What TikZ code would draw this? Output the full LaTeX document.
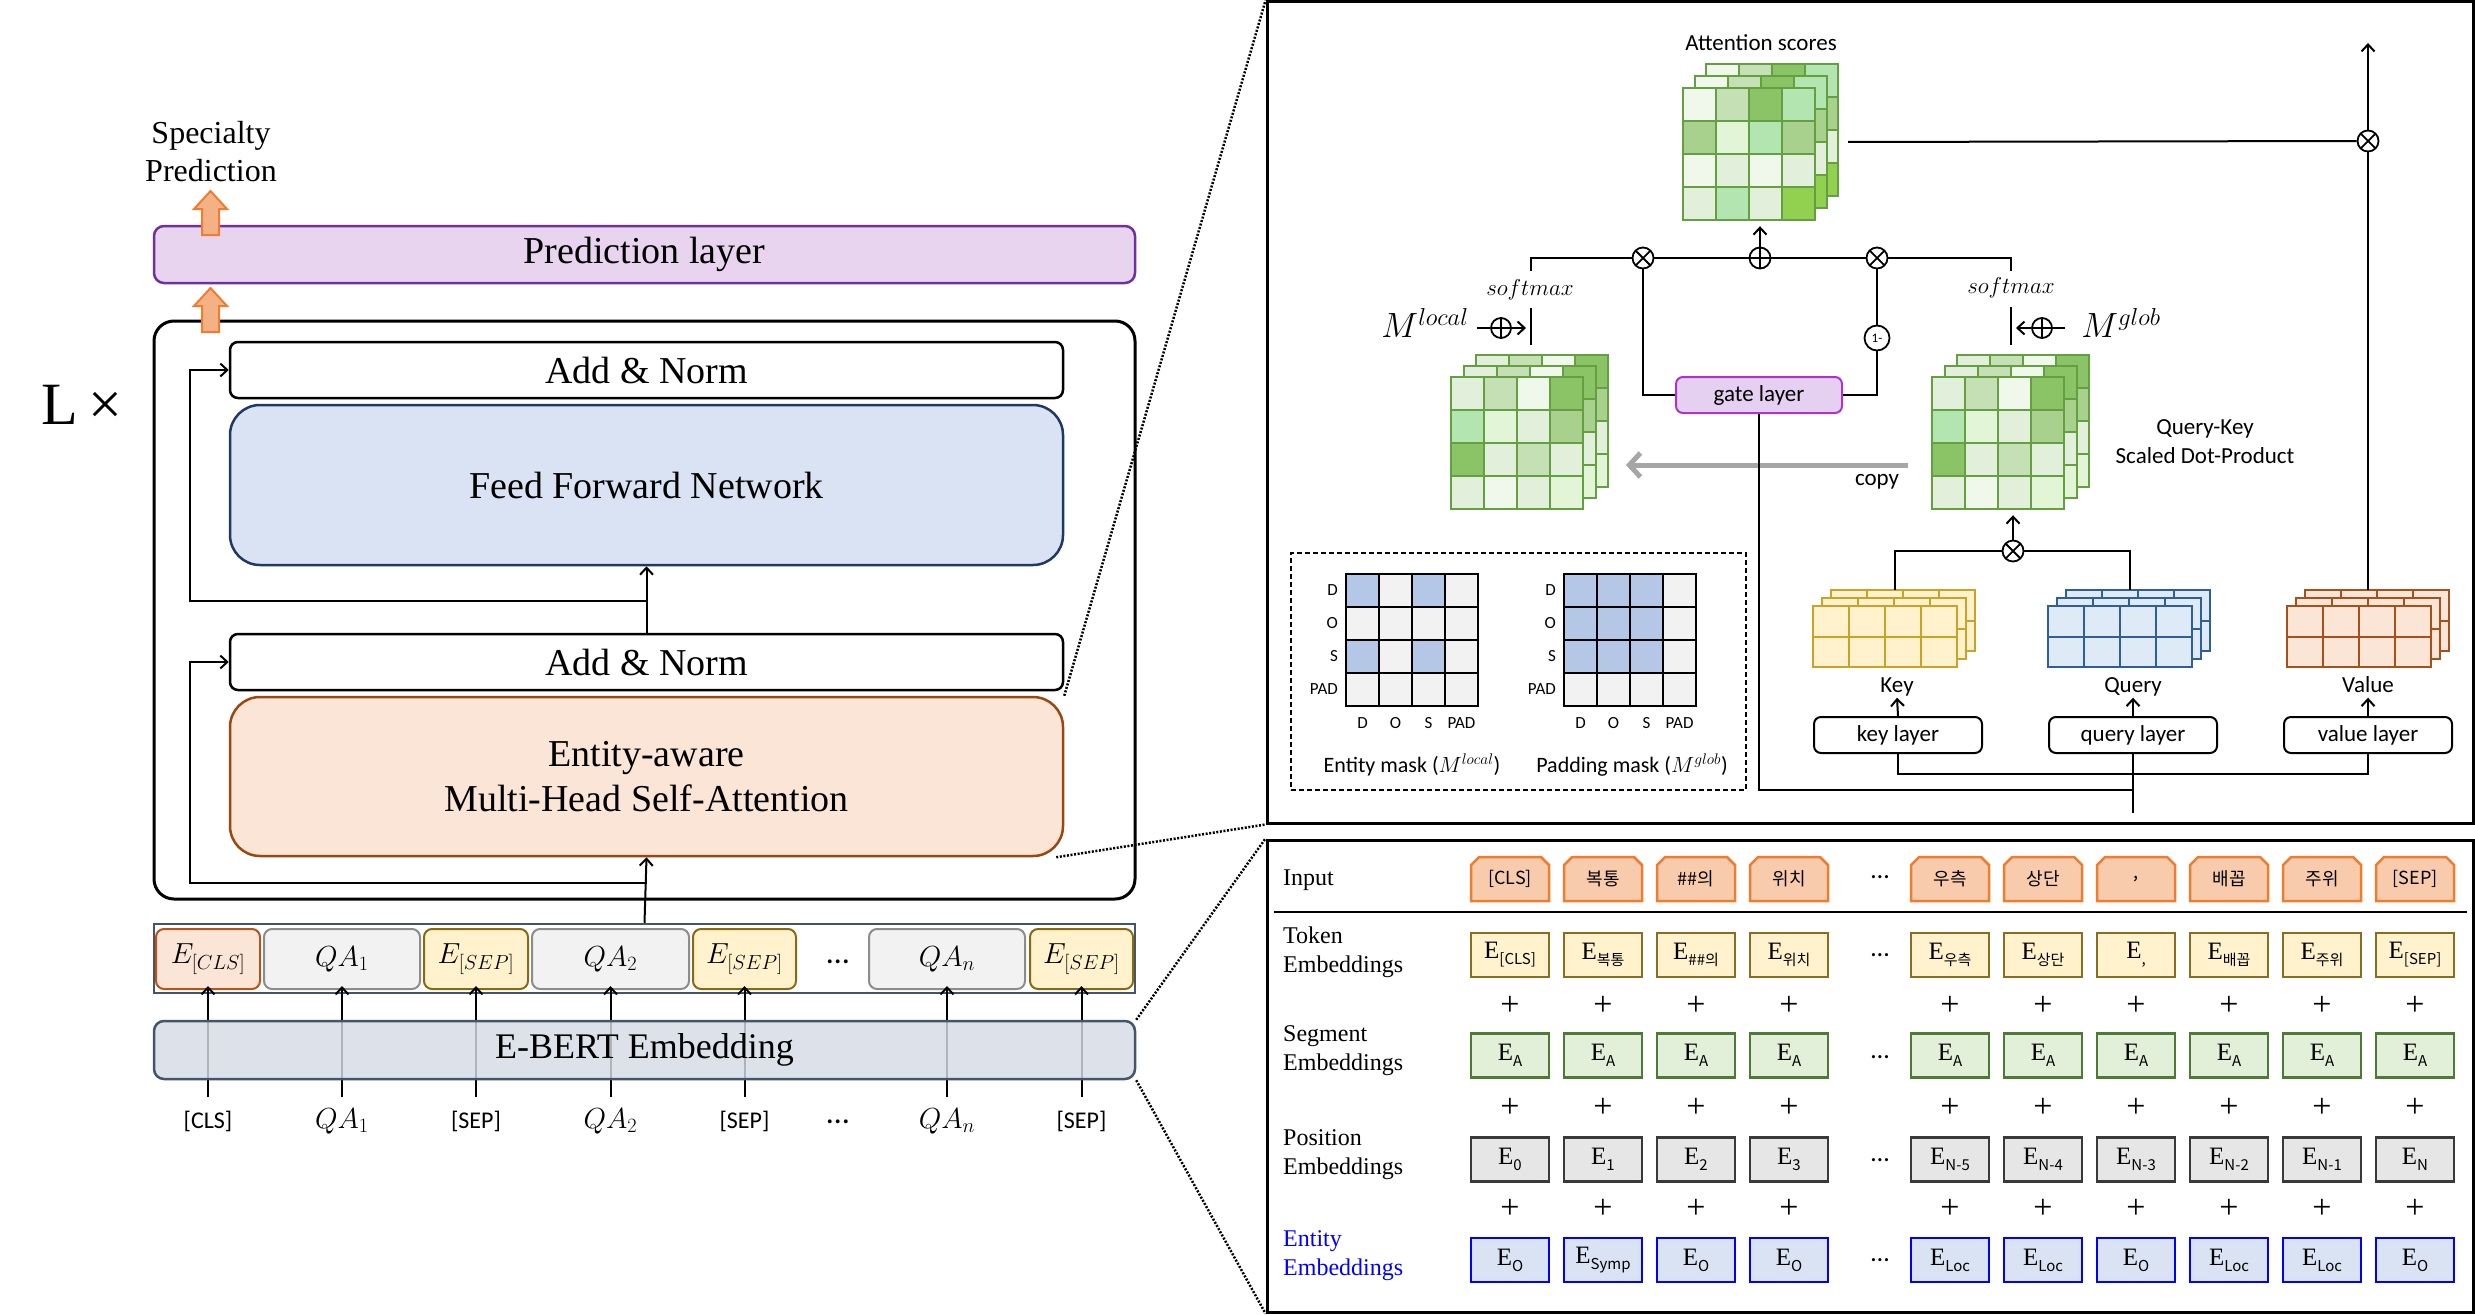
\RequirePackage{fix-cm}
\documentclass[tikz,border=0pt]{standalone}
\usepackage{fontspec}
\setmainfont{Liberation Serif}
\newfontfamily\calib{Carlito}
\newfontfamily\krf{Noto Sans CJK KR}
\usetikzlibrary{arrows.meta,calc}

\definecolor{predF}{HTML}{E8D4EF}
\definecolor{predB}{HTML}{7030A0}
\definecolor{ffnF}{HTML}{DAE3F3}
\definecolor{ffnB}{HTML}{1F3864}
\definecolor{mhsaF}{HTML}{FBE5D6}
\definecolor{mhsaB}{HTML}{984811}
\definecolor{ebF}{HTML}{D6DCE5}
\definecolor{ebB}{HTML}{44546A}
\definecolor{clsB}{HTML}{B5541B}
\definecolor{qaF}{HTML}{F2F2F2}
\definecolor{qaB}{HTML}{8C8C8C}
\definecolor{sepF}{HTML}{FFF2CC}
\definecolor{sepB}{HTML}{8A6A10}
\definecolor{orA}{HTML}{F4B183}
\definecolor{orB}{HTML}{ED7D31}
\definecolor{gateF}{HTML}{E6D0F2}
\definecolor{gateB}{HTML}{B030D0}
\definecolor{keyF}{HTML}{FFF2CC}
\definecolor{keyB}{HTML}{C9A227}
\definecolor{quF}{HTML}{DEEBF7}
\definecolor{quB}{HTML}{2E5F99}
\definecolor{vaF}{HTML}{FBE5D6}
\definecolor{vaB}{HTML}{A6501C}
\definecolor{grB}{HTML}{64A041}
\definecolor{gA}{HTML}{F0F8EC}
\definecolor{gB}{HTML}{E2EFDA}
\definecolor{gC}{HTML}{C5E0B4}
\definecolor{gD}{HTML}{A9D18E}
\definecolor{gE}{HTML}{8BC466}
\definecolor{gF}{HTML}{B2E5B0}
\definecolor{gG}{HTML}{E2F5D6}
\definecolor{gH}{HTML}{92D050}
\definecolor{mB}{HTML}{B4C7E7}
\definecolor{mW}{HTML}{F2F2F2}
\definecolor{inF}{HTML}{F8CBAD}
\definecolor{inB}{HTML}{ED7D31}
\definecolor{tkF}{HTML}{FFF2CC}
\definecolor{tkB}{HTML}{8C6D1F}
\definecolor{sgF}{HTML}{E2F0D9}
\definecolor{sgB}{HTML}{4E7A35}
\definecolor{psF}{HTML}{E7E6E6}
\definecolor{psB}{HTML}{3A3838}
\definecolor{enF}{HTML}{DAE3F3}
\definecolor{enB}{HTML}{0000FF}
\definecolor{cpG}{HTML}{A6A6A6}

\newcommand{\cellgrid}[7]{%
  \foreach \cc [count=\ii from 0] in {#7}{%
    \pgfmathtruncatemacro{\gcol}{mod(\ii,#5)}%
    \pgfmathtruncatemacro{\grow}{div(\ii,#5)}%
    \filldraw[fill=\cc, draw=#6, line width=2pt] ({#1+\gcol*#3},{#2+\grow*#4}) rectangle ++(#3,#4);%
  }%
}
\newcommand{\stackgrid}[9]{%
  \cellgrid{#1+2*#7}{#2-2*#8}{#3}{#4}{#5}{#6}{#9}%
  \cellgrid{#1+#7}{#2-#8}{#3}{#4}{#5}{#6}{#9}%
  \cellgrid{#1}{#2}{#3}{#4}{#5}{#6}{#9}%
}

\begin{document}
\begin{tikzpicture}[x=1pt,y=-1pt,
  ln/.style={line width=2pt},
  arr/.style={line width=2pt,-{Straight Barb[length=7pt,width=13pt]}},
  dotl/.style={line width=2.5pt, dash pattern=on 2pt off 1.6pt},
  otimes/.style={circle,draw,fill=white,line width=1.8pt,minimum size=21pt,inner sep=0pt,
    path picture={\draw[line width=1.8pt] (path picture bounding box.south west) -- (path picture bounding box.north east) (path picture bounding box.north west) -- (path picture bounding box.south east);}},
  oplus/.style={circle,draw,fill=white,line width=1.8pt,minimum size=21pt,inner sep=0pt,
    path picture={\draw[line width=1.8pt] (path picture bounding box.north) -- (path picture bounding box.south) (path picture bounding box.west) -- (path picture bounding box.east);}},
  big/.style={font=\fontsize{38}{45}\selectfont},
  cal/.style={font=\calib\fontsize{23}{29}\selectfont},
  lab/.style={inner sep=0pt, text height=17pt, text depth=6pt},
  ecell/.style={draw, line width=2pt, rounded corners=8pt, minimum height=60pt, inner sep=0pt, font=\fontsize{29}{29}\selectfont},
  lbox/.style={draw, line width=2pt, rounded corners=7pt, minimum width=168pt, minimum height=36pt, inner sep=0pt, cal},
  klab/.style={inner sep=0pt, text height=16pt, text depth=5pt, cal},
  ebox/.style={draw, line width=2.5pt, minimum width=78pt, minimum height=44pt, inner sep=0pt, font=\fontsize{25}{25}\selectfont},
  rowlab/.style={anchor=west, align=left, inner sep=0pt, font=\fontsize{24}{29}\selectfont},
  stk/.style={inner sep=0pt, draw=none},
  dots/.style={inner sep=0pt, font=\calib\fontsize{#1}{#1}\selectfont}
]
\useasboundingbox (0,0) rectangle (2475,1314);

%% ================= LEFT =================
\node[font=\fontsize{32}{38}\selectfont, align=center] (spec) at (211,152) {Specialty\\Prediction};
\node[font=\fontsize{60}{60}\selectfont] (lx) at (82,405) {L\,×};

\node[draw, line width=3pt, rounded corners=20pt, minimum width=981pt, minimum height=578pt] (outer) at (644.5,610) {};
\node[draw=predB, fill=predF, line width=2.5pt, rounded corners=10pt, minimum width=981pt, minimum height=57pt, big] (pred) at (644.5,254.5) {Prediction layer};

\node[draw, fill=white, line width=2.5pt, rounded corners=8pt, minimum width=833pt, minimum height=56pt, big] (an2) at (646.5,370) {Add \& Norm};
\node[draw=ffnB, fill=ffnF, line width=2.5pt, rounded corners=30pt, minimum width=833pt, minimum height=160pt, big] (ffn) at (646.5,485) {Feed Forward Network};
\node[draw, fill=white, line width=2.5pt, rounded corners=8pt, minimum width=833pt, minimum height=56pt, big] (an1) at (646.5,662) {Add \& Norm};
\node[draw=mhsaB, fill=mhsaF, line width=2.5pt, rounded corners=30pt, minimum width=833pt, minimum height=159pt, align=center, font=\fontsize{38}{45}\selectfont] (mhsa) at (646.5,776.5) {Entity-aware\\Multi-Head Self-Attention};

% orange arrows
\coordinate (oa1) at (210.5,235);
\coordinate (oa2) at (210.5,332);
\foreach \c in {oa1,oa2}{
  \filldraw[fill=orA, draw=orB, line width=2pt] (\c) ++(-8.5,0) -- ++(0,-26) -- ++(-8,0) -- ++(16.5,-18) -- ++(16.5,18) -- ++(-8,0) -- ++(0,26) -- cycle;
}

% embedding row
\node[draw=ebB, line width=2.5pt, minimum width=981pt, minimum height=69pt] (embrow) at (644.5,958.5) {};
\node[ecell, fill=mhsaF, draw=clsB, minimum width=104pt] (c1) at (208,959) {$E_{[CLS]}$};
\node[ecell, fill=qaF, draw=qaB, minimum width=156pt] (c2) at (342,959) {$QA_1$};
\node[ecell, fill=sepF, draw=sepB, minimum width=104pt] (c3) at (476,959) {$E_{[SEP]}$};
\node[ecell, fill=qaF, draw=qaB, minimum width=157pt] (c4) at (610.5,959) {$QA_2$};
\node[ecell, fill=sepF, draw=sepB, minimum width=103pt] (c5) at (744.5,959) {$E_{[SEP]}$};
\node[dots=32] (cd) at (838,962) {…};
\node[ecell, fill=qaF, draw=qaB, minimum width=156pt] (c6) at (947,959) {$QA_n$};
\node[ecell, fill=sepF, draw=sepB, minimum width=103pt] (c7) at (1081.5,959) {$E_{[SEP]}$};

% input labels
\node[lab, font=\calib\fontsize{24}{24}\selectfont] (l1) at (208,1123) {[CLS]};
\node[lab, font=\fontsize{29}{29}\selectfont] (l2) at (342,1123) {$QA_1$};
\node[lab, font=\calib\fontsize{24}{24}\selectfont] (l3) at (476,1123) {[SEP]};
\node[lab, font=\fontsize{29}{29}\selectfont] (l4) at (610.5,1123) {$QA_2$};
\node[lab, font=\calib\fontsize{24}{24}\selectfont] (l5) at (744.5,1123) {[SEP]};
\node[dots=32] (ld) at (838,1122) {…};
\node[lab, font=\fontsize{29}{29}\selectfont] (l6) at (947,1123) {$QA_n$};
\node[lab, font=\calib\fontsize{24}{24}\selectfont] (l7) at (1081.5,1123) {[SEP]};
\foreach \k in {1,...,7}{
  \draw[arr, shorten <=14pt, shorten >=-4pt] (l\k.north) -- (c\k.south);
}
\node[draw=ebB, fill=ebF, fill opacity=0.82, text opacity=1, line width=2.5pt, rounded corners=10pt, minimum width=981pt, minimum height=58pt, font=\fontsize{36}{36}\selectfont] (ebert) at (644.5,1050) {E-BERT Embedding};

% connectors left
\draw[arr] (embrow.north) -- (mhsa.south);
\draw[arr] (an1.north) -- (ffn.south);
\coordinate (r1) at (646.5,883);
\coordinate (r2) at (646.5,601);
\draw[arr] (r1) -| ([xshift=-39pt]an1.west) -- (an1.west);
\draw[arr] (r2) -| ([xshift=-39pt]an2.west) -- (an2.west);

%% ================= PANELS =================
\node[draw, line width=3pt, minimum width=1206pt, minimum height=821pt] (toppan) at (1870,412.5) {};
\node[draw, line width=3pt, minimum width=1206pt, minimum height=472pt] (botpan) at (1870,1076) {};

\draw[dotl] (mhsa.north east) -- (toppan.north west);
\draw[dotl] ([xshift=-8pt]mhsa.south east) -- (toppan.south west);
\draw[dotl] (ebert.north east) -- (botpan.north west);
\draw[dotl] (ebert.south east) -- (botpan.south west);

%% ================= TOP PANEL =================
\node[cal] (attl) at (1761,43) {Attention scores};
\stackgrid{1683}{88}{33}{33}{4}{grB}{11.5}{12}{gA,gC,gE,gF,gD,gG,gF,gD,gA,gB,gA,gB,gB,gF,gB,gH}
\node[stk, minimum width=156pt, minimum height=156pt] (att) at (1761,142) {};

\stackgrid{1451}{377}{33}{33}{4}{grB}{12.5}{11}{gB,gC,gA,gE,gF,gG,gB,gD,gE,gB,gC,gB,gB,gA,gB,gG}
\node[stk, minimum width=158pt, minimum height=154pt] (qkl) at (1530,432) {};
\stackgrid{1932}{377}{33}{33}{4}{grB}{12.5}{11}{gB,gC,gA,gE,gF,gG,gB,gD,gE,gB,gC,gB,gB,gA,gB,gG}
\node[stk, minimum width=157pt, minimum height=154pt] (qkg) at (2010.5,432) {};

\stackgrid{1813}{606}{36}{30.5}{4}{keyB}{9}{8}{keyF,keyF,keyF,keyF,keyF,keyF,keyF,keyF}
\node[stk, minimum width=163pt, minimum height=77pt] (key) at (1894.5,628.5) {};
\stackgrid{2048}{606}{36}{30.5}{4}{quB}{9}{8}{quF,quF,quF,quF,quF,quF,quF,quF}
\node[stk, minimum width=163pt, minimum height=77pt] (query) at (2129.5,628.5) {};
\stackgrid{2287}{606}{36}{30.5}{4}{vaB}{9}{8}{vaF,vaF,vaF,vaF,vaF,vaF,vaF,vaF}
\node[stk, minimum width=163pt, minimum height=77pt] (value) at (2368,628.5) {};

% right multiply and output
\node[otimes] (mulr) at (2368,141) {};
\coordinate (outtop) at (2368,43);
\draw[ln, shorten <=9pt] (att.east) -- (mulr.west);
\draw[ln] (value.north) -- (mulr.south);
\draw[arr] (mulr.north) -- (outtop);

% combination row
\node[otimes] (mull) at (1643,258) {};
\node[oplus] (sumc) at (1760,258) {};
\node[otimes] (mulg) at (1877,258) {};
\coordinate (tl) at (1531,271);
\coordinate (tr) at (2011,271);
\draw[ln] (tl) |- (mull.west);
\draw[ln] (mull.east) -- (sumc.west);
\draw[ln] (sumc.east) -- (mulg.west);
\draw[ln] (mulg.east) -| (tr);
\draw[arr, shorten >=6pt] (sumc.north) -- (sumc.north |- att.south);

% softmax
\node[font=\fontsize{23}{23}\selectfont] (smL) at (1530,290) {$softmax$};
\node[font=\fontsize{23}{23}\selectfont] (smR) at (2011,288) {$softmax$};
\coordinate (bl1) at (1531,308);
\coordinate (bl2) at (1531,345);
\coordinate (br1) at (2011,307);
\coordinate (br2) at (2011,345);
\draw[ln] (bl1) -- (bl2);
\draw[ln] (br1) -- (br2);

% masks into softmax
\node[font=\fontsize{35}{35}\selectfont] (Ml) at (1425,323) {$M^{local}$};
\node[font=\fontsize{35}{35}\selectfont] (Mg) at (2121,323) {$M^{glob}$};
\node[oplus, minimum size=20pt] (plusl) at (1501,328) {};
\node[oplus, minimum size=20pt] (plusg) at (2042,328) {};
\coordinate (mla) at (1477,328);
\coordinate (mlb) at (1526,328);
\coordinate (mga) at (2065,328);
\coordinate (mgb) at (2016,328);
\draw[ln] (mla) -- (plusl.west);
\draw[arr] (plusl.east) -- (mlb);
\draw[ln] (mga) -- (plusg.east);
\draw[arr] (plusg.west) -- (mgb);

% copy arrow
\coordinate (cps) at (1908,465);
\coordinate (cpe) at (1626,465);
\draw[line width=5pt, cpG, -{Straight Barb[length=11pt,width=24pt]}] (cps) -- (cpe);
\node[cal] (copyl) at (1877,482) {copy};

% gate
\node[draw=gateB, fill=gateF, line width=2pt, rounded corners=7pt, minimum width=166pt, minimum height=36pt, inner sep=0pt, cal] (gate) at (1759,395) {gate layer};
\node[circle, draw, fill=white, line width=1.8pt, minimum size=25pt, inner sep=0pt, font=\calib\fontsize{13}{13}\selectfont] (onem) at (1877,338) {1-};
\draw[ln] (gate.west) -| (mull.south);
\draw[ln] (gate.east) -| (onem.south);
\draw[ln] (onem.north) -- (mulg.south);

\node[cal, align=center] (qkt) at (2205,442) {Query-Key\\Scaled Dot-Product};

% key/query/value
\node[otimes] (mulqk) at (2013,551) {};
\draw[ln] (key.north) |- (mulqk.west);
\draw[ln] (query.north) |- (mulqk.east);
\draw[arr, shorten >=6pt] (mulqk.north) -- (mulqk.north |- qkg.south);

\node[klab] (keyt) at (1897,687) {Key};
\node[klab] (queryt) at (2133,687) {Query};
\node[klab] (valuet) at (2368,687) {Value};
\node[lbox] (keyl) at (1898,735) {key layer};
\node[lbox] (queryl) at (2133,735) {query layer};
\node[lbox] (valuel) at (2368,735) {value layer};
\draw[arr] (keyl.north) -- (keyt.south);
\draw[arr] (queryl.north) -- (queryt.south);
\draw[arr] (valuel.north) -- (valuet.south);

\coordinate (kvj) at (2133,774);
\coordinate (gj) at (2133,790);
\coordinate (qin) at (2133,813);
\draw[ln] (keyl.south) |- (kvj) -| (valuel.south);
\draw[ln] (qin) -- (queryl.south);
\draw[ln] (gate.south) |- (gj);

% mask box
\node[draw, line width=1.5pt, dash pattern=on 5pt off 3pt, minimum width=455pt, minimum height=237pt] (mbox) at (1518.5,671.5) {};
\cellgrid{1346}{574}{33}{33}{4}{black}{mB,mW,mB,mW,mW,mW,mW,mW,mB,mW,mB,mW,mW,mW,mW,mW}
\cellgrid{1564}{574}{33}{33}{4}{black}{mB,mB,mB,mW,mB,mB,mB,mW,mB,mB,mB,mW,mW,mW,mW,mW}
\foreach \lbl [count=\j from 0] in {D,O,S,PAD}{
  \node[anchor=east, inner sep=0pt, font=\calib\fontsize{17}{17}\selectfont] (er\j) at (1338,{590.5+33*\j}) {\lbl};
  \node[inner sep=0pt, font=\calib\fontsize{17}{17}\selectfont] (ec\j) at ({1362.5+33*\j},723) {\lbl};
  \node[anchor=east, inner sep=0pt, font=\calib\fontsize{17}{17}\selectfont] (pr\j) at (1556,{590.5+33*\j}) {\lbl};
  \node[inner sep=0pt, font=\calib\fontsize{17}{17}\selectfont] (pc\j) at ({1580.5+33*\j},723) {\lbl};
}
\node[font=\calib\fontsize{22}{22}\selectfont] (ecap) at (1412,765) {Entity mask ($M^{local}$)};
\node[font=\calib\fontsize{22}{22}\selectfont] (pcap) at (1632,765) {Padding mask ($M^{glob}$)};

%% ================= BOTTOM PANEL =================
\node[rowlab] (rin) at (1283,880) {Input};
\node[rowlab] (rtk) at (1283,952) {Token\\Embeddings};
\node[rowlab] (rsg) at (1283,1051) {Segment\\Embeddings};
\node[rowlab] (rps) at (1283,1155) {Position\\Embeddings};
\node[rowlab, text=enB] (ren) at (1283,1256) {Entity\\Embeddings};
\coordinate (sepl) at (1274,912);
\coordinate (sepr) at (2467,912);
\draw[line width=2.5pt] (sepl) -- (sepr);

\foreach \x/\tsub [count=\i] in {1510/{[CLS]},1603/복통,1696/{\#\#의},1789/위치,1950/우측,2043/상단,2136/{,},2229/배꼽,2322/주위,2415/{[SEP]}}{
  \filldraw[fill=inF, draw=inB, line width=2.5pt] (\x-39,901) -- (\x-39,865) -- (\x-31,857) -- (\x+31,857) -- (\x+39,865) -- (\x+39,901) -- cycle;
  \node[font=\krf\fontsize{18}{18}\selectfont] (in\i) at (\x,879) {\tsub};
}
\foreach \x/\tsub [count=\i] in {1510/{[CLS]},1603/복통,1696/{\#\#의},1789/위치,1950/우측,2043/상단,2136/{,},2229/배꼽,2322/주위,2415/{[SEP]}}{
  \node[ebox, fill=tkF, draw=tkB] (tk\i) at (\x,955) {E\raisebox{-6pt}{\krf\fontsize{15}{15}\selectfont\tsub}};
}
\foreach \x [count=\i] in {1510,1603,1696,1789,1950,2043,2136,2229,2322,2415}{
  \node[ebox, fill=sgF, draw=sgB] (sg\i) at (\x,1055.5) {E\raisebox{-6pt}{\krf\fontsize{15}{15}\selectfont A}};
}
\foreach \x/\tsub [count=\i] in {1510/0,1603/1,1696/2,1789/3,1950/N-5,2043/N-4,2136/N-3,2229/N-2,2322/N-1,2415/N}{
  \node[ebox, fill=psF, draw=psB] (ps\i) at (\x,1159.5) {E\raisebox{-6pt}{\krf\fontsize{15}{15}\selectfont\tsub}};
}
\foreach \x/\tsub [count=\i] in {1510/O,1603/Symp,1696/O,1789/O,1950/Loc,2043/Loc,2136/O,2229/Loc,2322/Loc,2415/O}{
  \node[ebox, fill=enF, draw=enB] (en\i) at (\x,1260) {E\raisebox{-6pt}{\krf\fontsize{15}{15}\selectfont\tsub}};
}
\foreach \x [count=\i] in {1510,1603,1696,1789,1950,2043,2136,2229,2322,2415}{
  \foreach \y [count=\j] in {1006,1108,1209}{
    \node[inner sep=0pt, font=\fontsize{34}{34}\selectfont] (pl\i-\j) at (\x,\y) {+};
  }
}
\foreach \y [count=\j] in {877,955,1057,1160,1260}{
  \node[dots=26] (bd\j) at (1880,\y) {…};
}
\end{tikzpicture}
\end{document}
